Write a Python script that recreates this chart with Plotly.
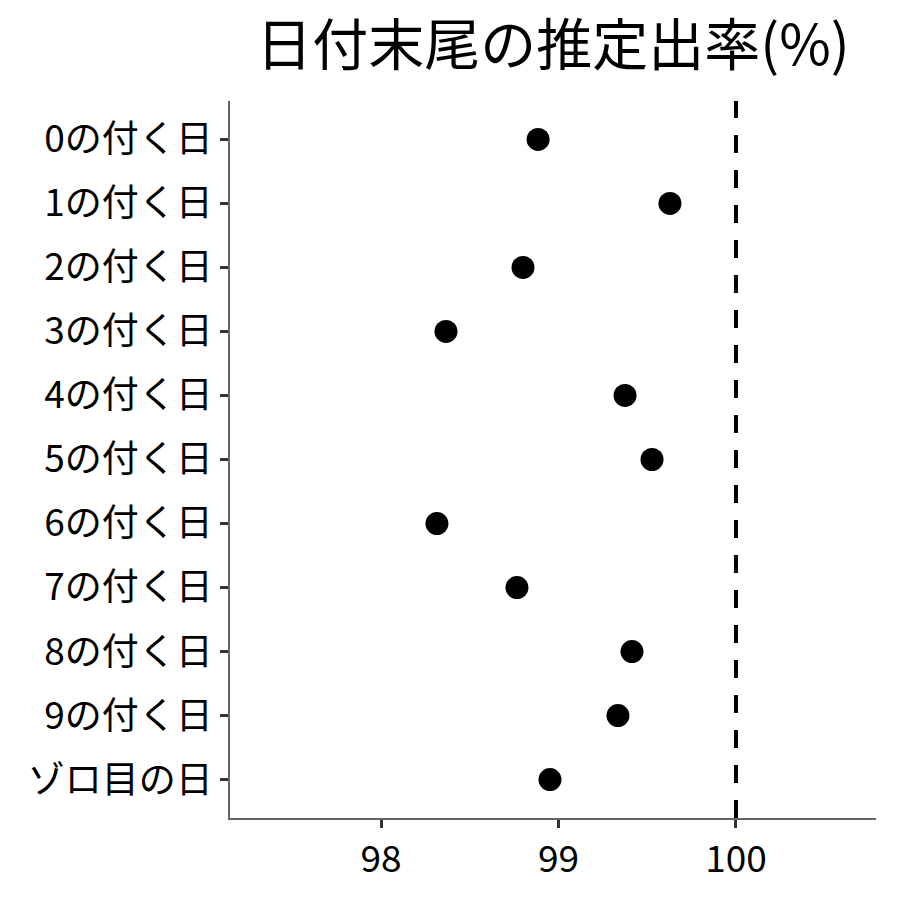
import plotly.graph_objects as go

categories = ['0の付く日', '1の付く日', '2の付く日', '3の付く日', '4の付く日',
              '5の付く日', '6の付く日', '7の付く日', '8の付く日', '9の付く日', 'ゾロ目の日']
rates = [98.885, 99.628, 98.80, 98.366, 99.375, 99.527, 98.315, 98.766, 99.414, 99.335, 98.952]
x_ticks = [98, 99, 100]

fig = go.Figure()
fig.add_trace(go.Scatter(
    x=rates, y=categories, mode='markers',
    marker=dict(color='black', size=23),
    showlegend=False
))
fig.add_vline(x=100, line=dict(color='black', width=4, dash='18px,17px'))

# page has an 8px body margin, so margins are shifted by 8
fig.update_layout(
    {'plot_bgcolor': '#FFFFFF', 'paper_bgcolor': '#FFFFFF'},
    width=900, height=900,
    margin=dict(l=222, r=32, t=93, b=90),
    font_family='Noto Sans CJK JP',
    font_color='black',
    title=dict(text='日付末尾の推定出率(%)', x=0.5, xref='paper', xanchor='center',
               y=0.958, yanchor='middle', font=dict(size=56, color='black')),
)
fig.update_xaxes(range=[97.149, 100.789], tickvals=x_ticks, showgrid=False, zeroline=False,
                 showline=True, linecolor='#666666', linewidth=1.5,
                 ticks='outside', ticklen=8, tickwidth=3, tickcolor='#333333',
                 tickfont=dict(size=37, color='black'))
fig.update_yaxes(categoryorder='array', categoryarray=categories,
                 range=[10.6, -0.6], showgrid=False, zeroline=False,
                 showline=True, linecolor='#666666', linewidth=1.5,
                 ticks='outside', ticklen=8, tickwidth=3, tickcolor='#333333',
                 tickfont=dict(size=37, color='black'))

fig.write_html("out.html")
